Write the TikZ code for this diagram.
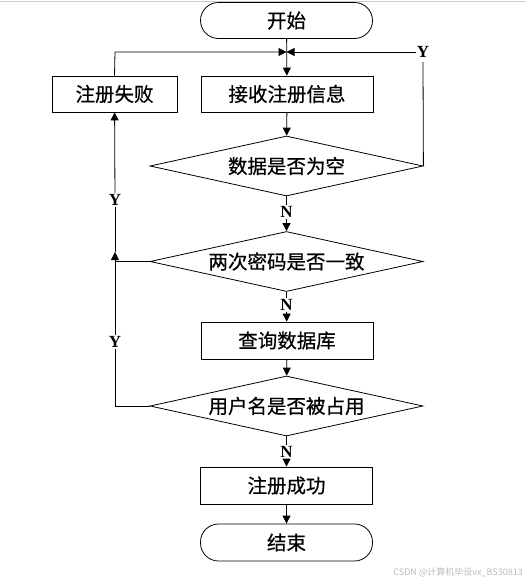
\documentclass[tikz,border=0pt]{standalone}
\usepackage{fontspec}
\newfontfamily\cjk[FakeBold=0.6]{Noto Sans CJK SC}
\newfontfamily\cjkw{Noto Sans CJK SC}
\newfontfamily\lat{Liberation Serif}
\usetikzlibrary{shapes.geometric,arrows.meta}
\begin{document}
\begin{tikzpicture}[x=1pt,y=-1pt,
  every node/.style={font=\cjk\fontsize{19.5}{21}\selectfont},
  box/.style={draw,line width=0.8pt,minimum width=172pt,minimum height=36pt,inner sep=0pt},
  term/.style={box,rounded corners=18pt},
  dec/.style={draw,line width=0.8pt,diamond,aspect=4.55,minimum width=273pt,minimum height=60pt,inner sep=0pt},
  lab/.style={font=\lat\bfseries\fontsize{17}{18}\selectfont,inner sep=1pt},
  ln/.style={line width=0.8pt},
  arr/.style={ln,-{Triangle[length=8pt,width=8pt]}}
]
\useasboundingbox (0,0) rectangle (526,584);
\draw[gray!40,line width=1pt] (0,1.5) -- (526,1.5);
\node[term] (start) at (286.5,20.5) {开始};
\node[box] (recv) at (287,94) {接收注册信息};
\node[box,minimum width=125pt] (fail) at (114.5,94) {注册失败};
\node[dec] (d1) at (286.5,166) {数据是否为空};
\node[dec] (d2) at (286.5,261.5) {两次密码是否一致};
\node[box,minimum height=37pt] (query) at (287,340.5) {查询数据库};
\node[dec] (d3) at (286.5,406) {用户名是否被占用};
\node[box,minimum height=37pt] (succ) at (286.5,485.5) {注册成功};
\node[term,minimum height=37pt] (end) at (286.5,542.5) {结束};
\coordinate (j) at (286.5,52);
\node[lab] (yr) at (423,52) {Y};
\node[lab] (n1) at (286.5,212) {N};
\node[lab] (n2) at (286.5,305) {N};
\node[lab] (n3) at (286.5,452) {N};
\node[lab] (y1) at (115,200) {Y};
\node[lab] (y2) at (115,342) {Y};
\coordinate (c2) at (115,261.5);
\coordinate (c2a) at (115,252);
\coordinate (c3) at (115,406);
\coordinate (cr) at (423,62);
\coordinate (cl) at (115,52);
% main flow
\draw[arr] (start) -- (recv);
\draw[arr] (recv) -- (d1);
\draw[ln] (d1) -- (n1);
\draw[arr] (n1) -- (d2);
\draw[ln] (d2) -- (n2);
\draw[arr] (n2) -- (query);
\draw[arr] (query) -- (d3);
\draw[ln] (d3) -- (n3);
\draw[arr] (n3) -- (succ);
\draw[arr] (succ) -- (end);
% loop back from fail
\draw[arr] (fail.north) -- (cl) -- (j);
% Y branch from d1
\draw[ln] (d1.east) -- (cr);
\draw[arr] (yr.west) -- (j);
% Y branches to fail
\draw[arr] (d2.west) -- (c2) -- (c2a);
\draw[ln] (c2a) -- (y1);
\draw[arr] (y1) -- (fail);
\draw[ln] (d3.west) -- (c3) -- (y2);
\draw[ln] (y2) -- (c2);
\node[font=\cjkw\fontsize{9}{10}\selectfont,text=gray!55,anchor=east,inner sep=0pt] (wm) at (523,572) {CSDN @计算机毕设vx\_BS30813};
\end{tikzpicture}
\end{document}
